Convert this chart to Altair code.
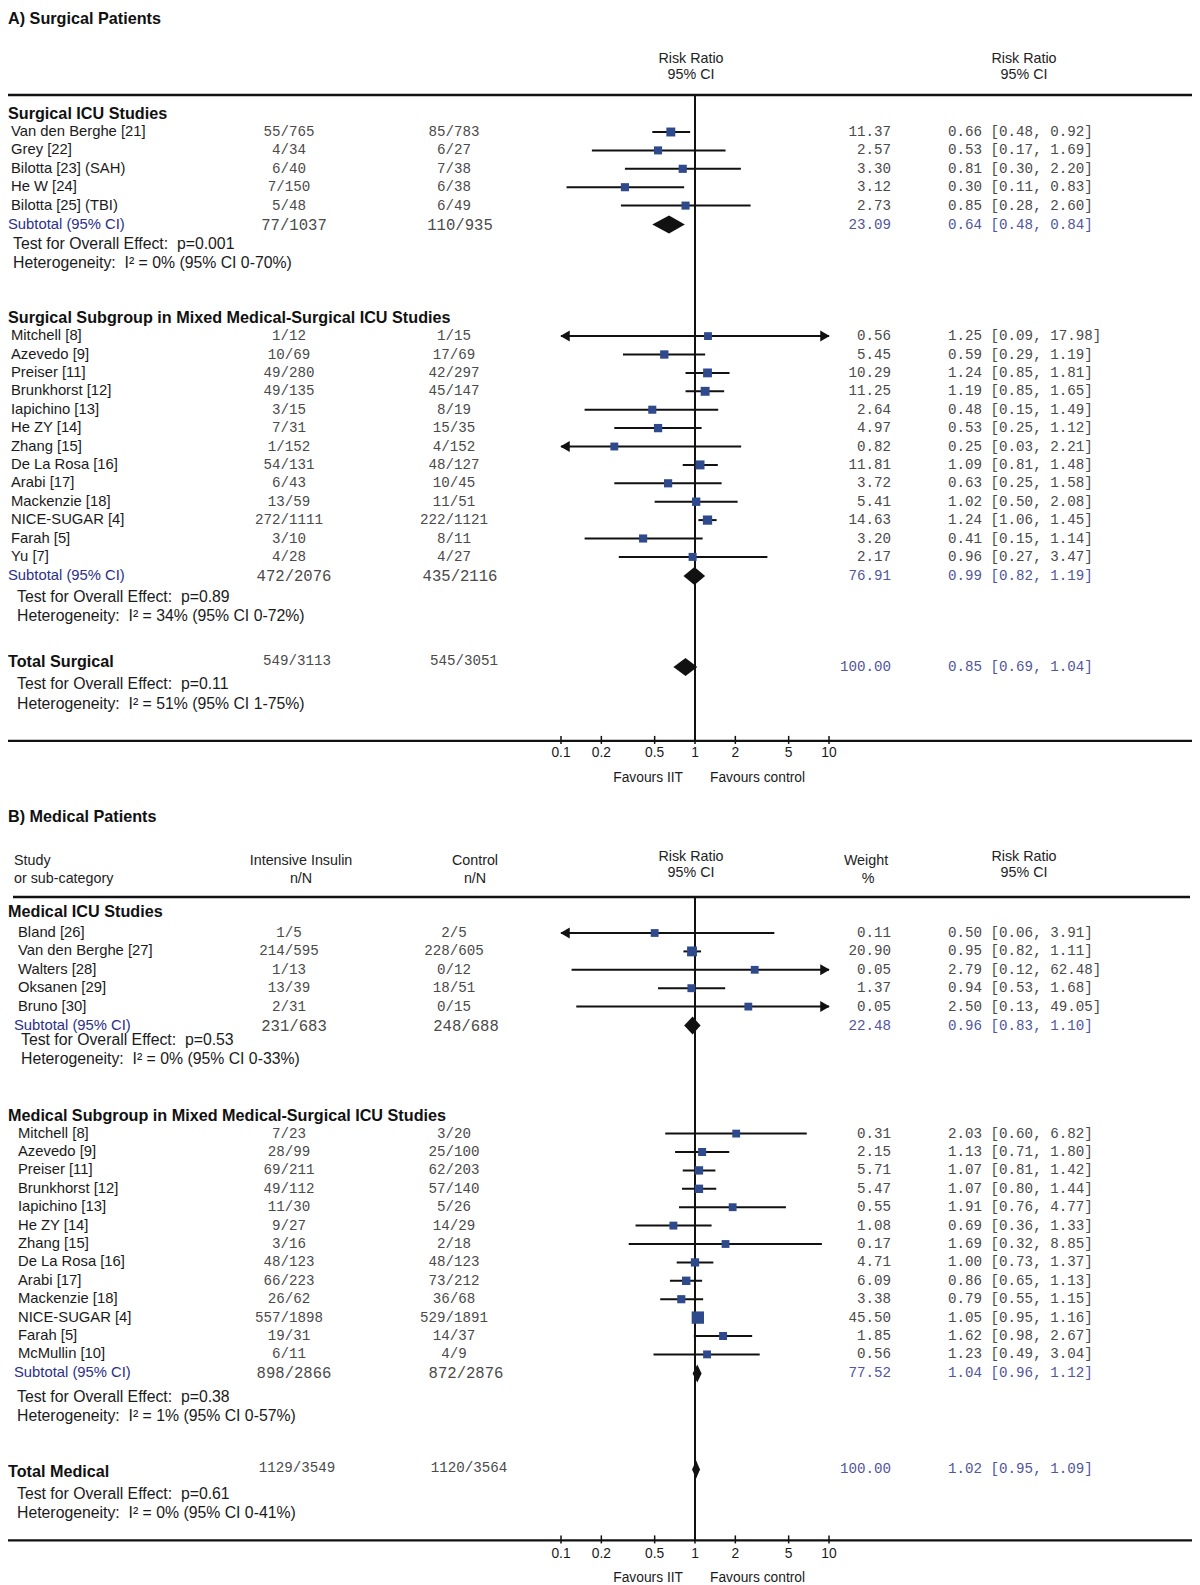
import altair as alt
import pandas as pd

# ------------------------------------------------------------------ data
# Panel A - Surgical patients
A_TITLE = "A) Surgical Patients"

A1_NAME = "Surgical ICU Studies"
A1_STUDY = ["Van den Berghe [21]", "Grey [22]", "Bilotta [23] (SAH)", "He W [24]", "Bilotta [25] (TBI)"]
A1_IIT = ["55/765", "4/34", "6/40", "7/150", "5/48"]
A1_CTRL = ["85/783", "6/27", "7/38", "6/38", "6/49"]
A1_WEIGHT = [11.37, 2.57, 3.30, 3.12, 2.73]
A1_RR = [0.66, 0.53, 0.81, 0.30, 0.85]
A1_LO = [0.48, 0.17, 0.30, 0.11, 0.28]
A1_HI = [0.92, 1.69, 2.20, 0.83, 2.60]
A1_SUB = ["77/1037", "110/935", 23.09, 0.64, 0.48, 0.84]
A1_TEST = "p=0.001"
A1_HET = "0% (95% CI 0-70%)"

A2_NAME = "Surgical Subgroup in Mixed Medical-Surgical ICU Studies"
A2_STUDY = ["Mitchell [8]", "Azevedo [9]", "Preiser [11]", "Brunkhorst [12]", "Iapichino [13]",
            "He ZY [14]", "Zhang [15]", "De La Rosa [16]", "Arabi [17]", "Mackenzie [18]",
            "NICE-SUGAR [4]", "Farah [5]", "Yu [7]"]
A2_IIT = ["1/12", "10/69", "49/280", "49/135", "3/15", "7/31", "1/152", "54/131", "6/43",
          "13/59", "272/1111", "3/10", "4/28"]
A2_CTRL = ["1/15", "17/69", "42/297", "45/147", "8/19", "15/35", "4/152", "48/127", "10/45",
           "11/51", "222/1121", "8/11", "4/27"]
A2_WEIGHT = [0.56, 5.45, 10.29, 11.25, 2.64, 4.97, 0.82, 11.81, 3.72, 5.41, 14.63, 3.20, 2.17]
A2_RR = [1.25, 0.59, 1.24, 1.19, 0.48, 0.53, 0.25, 1.09, 0.63, 1.02, 1.24, 0.41, 0.96]
A2_LO = [0.09, 0.29, 0.85, 0.85, 0.15, 0.25, 0.03, 0.81, 0.25, 0.50, 1.06, 0.15, 0.27]
A2_HI = [17.98, 1.19, 1.81, 1.65, 1.49, 1.12, 2.21, 1.48, 1.58, 2.08, 1.45, 1.14, 3.47]
A2_SUB = ["472/2076", "435/2116", 76.91, 0.99, 0.82, 1.19]
A2_TEST = "p=0.89"
A2_HET = "34% (95% CI 0-72%)"

A_TOTAL_NAME = "Total Surgical"
A_TOTAL = ["549/3113", "545/3051", 100.00, 0.85, 0.69, 1.04]
A_TOTAL_TEST = "p=0.11"
A_TOTAL_HET = "51% (95% CI 1-75%)"

# Panel B - Medical patients
B_TITLE = "B) Medical Patients"

B1_NAME = "Medical ICU Studies"
B1_STUDY = ["Bland [26]", "Van den Berghe [27]", "Walters [28]", "Oksanen [29]", "Bruno [30]"]
B1_IIT = ["1/5", "214/595", "1/13", "13/39", "2/31"]
B1_CTRL = ["2/5", "228/605", "0/12", "18/51", "0/15"]
B1_WEIGHT = [0.11, 20.90, 0.05, 1.37, 0.05]
B1_RR = [0.50, 0.95, 2.79, 0.94, 2.50]
B1_LO = [0.06, 0.82, 0.12, 0.53, 0.13]
B1_HI = [3.91, 1.11, 62.48, 1.68, 49.05]
B1_SUB = ["231/683", "248/688", 22.48, 0.96, 0.83, 1.10]
B1_TEST = "p=0.53"
B1_HET = "0% (95% CI 0-33%)"

B2_NAME = "Medical Subgroup in Mixed Medical-Surgical ICU Studies"
B2_STUDY = ["Mitchell [8]", "Azevedo [9]", "Preiser [11]", "Brunkhorst [12]", "Iapichino [13]",
            "He ZY [14]", "Zhang [15]", "De La Rosa [16]", "Arabi [17]", "Mackenzie [18]",
            "NICE-SUGAR [4]", "Farah [5]", "McMullin [10]"]
B2_IIT = ["7/23", "28/99", "69/211", "49/112", "11/30", "9/27", "3/16", "48/123", "66/223",
          "26/62", "557/1898", "19/31", "6/11"]
B2_CTRL = ["3/20", "25/100", "62/203", "57/140", "5/26", "14/29", "2/18", "48/123", "73/212",
           "36/68", "529/1891", "14/37", "4/9"]
B2_WEIGHT = [0.31, 2.15, 5.71, 5.47, 0.55, 1.08, 0.17, 4.71, 6.09, 3.38, 45.50, 1.85, 0.56]
B2_RR = [2.03, 1.13, 1.07, 1.07, 1.91, 0.69, 1.69, 1.00, 0.86, 0.79, 1.05, 1.62, 1.23]
B2_LO = [0.60, 0.71, 0.81, 0.80, 0.76, 0.36, 0.32, 0.73, 0.65, 0.55, 0.95, 0.98, 0.49]
B2_HI = [6.82, 1.80, 1.42, 1.44, 4.77, 1.33, 8.85, 1.37, 1.13, 1.15, 1.16, 2.67, 3.04]
B2_SUB = ["898/2866", "872/2876", 77.52, 1.04, 0.96, 1.12]
B2_TEST = "p=0.38"
B2_HET = "1% (95% CI 0-57%)"

B_TOTAL_NAME = "Total Medical"
B_TOTAL = ["1129/3549", "1120/3564", 100.00, 1.02, 0.95, 1.09]
B_TOTAL_TEST = "p=0.61"
B_TOTAL_HET = "0% (95% CI 0-41%)"

TICK_VALUES = [0.1, 0.2, 0.5, 1, 2, 5, 10]
TICK_LABELS = ["0.1", "0.2", "0.5", "1", "2", "5", "10"]
HDR_RR = ["Risk Ratio", "95% CI"]
HDR_STUDY = ["Study", "or sub-category"]
HDR_IIT = ["Intensive Insulin", "n/N"]
HDR_CTRL = ["Control", "n/N"]
HDR_WEIGHT = ["Weight", "%"]
FAV_LEFT = "Favours IIT"
FAV_RIGHT = "Favours control"
SUBTOTAL_LABEL = "Subtotal (95% CI)"
TEST_LABEL = "Test for Overall Effect:\u00a0 "
HET_LABEL = "Heterogeneity:\u00a0 I\u00b2 = "

# ------------------------------------------------------------------ layout
W, H = 1184, 1577
ROW = 18.4            # px per study row
PAGE = 8              # page margin
SANS = "Liberation Sans"
MONO = "Liberation Mono"
INK = "#111111"
NUM = "#4a4a4a"
NAVY = "#2b3088"
SUBNUM = "#50569a"
SQUARE = "#2f4a8c"

LAYOUT_A = dict(title=19, rr=(59, 75), other=None, rule=95, rule_x=(6, 1194),
                head_gap=19, first_gap=[18, 18], sub_gap=19, test_gap=[19.5, 21], het_gap=[19, 19],
                next_gap=55, total_gap=46, total_shift=5, total_num_shift=-1,
                ttest_gap=22, thet_gap=20, axis_gap=37, ticklab_gap=12, fav_gap=37,
                head_x=0, study_x=11, sub_x=6, test_x=[13, 17], total_x=0, ttest_x=17,
                sub_num_x=(294, 460), tot_num_x=(297, 464))
LAYOUT_B = dict(title=817, rr=(857, 873), other=(861, 879), rule=897, rule_x=(13, 1190),
                head_gap=15, first_gap=[21, 18], sub_gap=19, test_gap=[14, 24], het_gap=[19, 19],
                next_gap=57, total_gap=56, total_shift=-3, total_num_shift=-4,
                ttest_gap=22, thet_gap=19, axis_gap=27, ticklab_gap=14, fav_gap=38,
                head_x=8, study_x=18, sub_x=14, test_x=[21, 17], total_x=8, ttest_x=17,
                sub_num_x=(294, 466), tot_num_x=(297, 469))


def sec(name, study, iit, ctrl, w, rr, lo, hi, sub, test, het):
    return dict(name=name, study=study, iit=iit, ctrl=ctrl, w=w, rr=rr, lo=lo, hi=hi,
                sub=sub, test=test, het=het)


PANELS = [
    (A_TITLE, LAYOUT_A,
     [sec(A1_NAME, A1_STUDY, A1_IIT, A1_CTRL, A1_WEIGHT, A1_RR, A1_LO, A1_HI, A1_SUB, A1_TEST, A1_HET),
      sec(A2_NAME, A2_STUDY, A2_IIT, A2_CTRL, A2_WEIGHT, A2_RR, A2_LO, A2_HI, A2_SUB, A2_TEST, A2_HET)],
     (A_TOTAL_NAME, A_TOTAL, A_TOTAL_TEST, A_TOTAL_HET)),
    (B_TITLE, LAYOUT_B,
     [sec(B1_NAME, B1_STUDY, B1_IIT, B1_CTRL, B1_WEIGHT, B1_RR, B1_LO, B1_HI, B1_SUB, B1_TEST, B1_HET),
      sec(B2_NAME, B2_STUDY, B2_IIT, B2_CTRL, B2_WEIGHT, B2_RR, B2_LO, B2_HI, B2_SUB, B2_TEST, B2_HET)],
     (B_TOTAL_NAME, B_TOTAL, B_TOTAL_TEST, B_TOTAL_HET)),
]


def yu(page_y):
    return (page_y - PAGE) / ROW


def px(page_x):
    return max(0, page_x - PAGE)


texts = []      # t, y, x, align, style
studies = []    # rows for forest
diamonds = []
hrules = []
vlines = []
ticks = []


def add_text(t, y, x, align, style):
    texts.append(dict(t=t, y=yu(y), x=px(x), align=align, style=style))


def ci_str(rr, lo, hi):
    return f"{rr:.2f} [{lo:.2f}, {hi:.2f}]"


DH = 9.0  # diamond half height, px

for title, L, sections, total in PANELS:
    add_text(title, L["title"], 0, "left", "title")
    r1, r2 = L["rr"]
    add_text(HDR_RR[0], r1, 691, "center", "hdr")
    add_text(HDR_RR[1], r2, 691, "center", "hdr")
    add_text(HDR_RR[0], r1, 1024, "center", "hdr")
    add_text(HDR_RR[1], r2, 1024, "center", "hdr")
    if L["other"]:
        o1, o2 = L["other"]
        add_text(HDR_STUDY[0], o1, 14, "left", "hdr")
        add_text(HDR_STUDY[1], o2, 14, "left", "hdr")
        add_text(HDR_IIT[0], o1, 301, "center", "hdr")
        add_text(HDR_IIT[1], o2, 301, "center", "hdr")
        add_text(HDR_CTRL[0], o1, 475, "center", "hdr")
        add_text(HDR_CTRL[1], o2, 475, "center", "hdr")
        add_text(HDR_WEIGHT[0], o1, 866, "center", "hdr")
        add_text(HDR_WEIGHT[1], o2, 868, "center", "hdr")
    rule_y = L["rule"]
    hrules.append(dict(y=yu(rule_y), x0=px(L["rule_x"][0]), x1=px(L["rule_x"][1]), kind="head"))
    cur = rule_y
    for k, s in enumerate(sections):
        cur += L["head_gap"] if k == 0 else L["next_gap"]
        add_text(s["name"], cur, L["head_x"], "left", "section")
        cur += L["first_gap"][k]
        for i, name in enumerate(s["study"]):
            if i:
                cur += ROW
            add_text(name, cur, L["study_x"], "left", "study")
            add_text(s["iit"][i], cur, 289, "center", "num")
            add_text(s["ctrl"][i], cur, 454, "center", "num")
            add_text(f"{s['w'][i]:.2f}", cur, 891, "right", "num")
            add_text(ci_str(s["rr"][i], s["lo"][i], s["hi"][i]), cur, 948, "left", "num")
            studies.append(dict(y=yu(cur), rr=s["rr"][i], lo=max(s["lo"][i], 0.1),
                                hi=min(s["hi"][i], 10.0), left=s["lo"][i] < 0.1,
                                right=s["hi"][i] > 10.0,
                                s=(7.8 + 0.1 * s["w"][i]) ** 2))
        cur += L["sub_gap"]
        si, sc, sw, srr, slo, shi = s["sub"]
        add_text(SUBTOTAL_LABEL, cur, L["sub_x"], "left", "sublabel")
        add_text(si, cur, L["sub_num_x"][0], "center", "subnum")
        add_text(sc, cur, L["sub_num_x"][1], "center", "subnum")
        add_text(f"{sw:.2f}", cur, 891, "right", "subw")
        add_text(ci_str(srr, slo, shi), cur, 948, "left", "subw")
        g = f"{title}-{k}"
        for xv, top, bot in [(slo, cur, cur), (srr, cur - DH, cur + DH), (shi, cur, cur)]:
            diamonds.append(dict(g=g, x=xv, yt=yu(top), yb=yu(bot)))
        cur += L["test_gap"][k]
        add_text(TEST_LABEL + s["test"], cur, L["test_x"][k], "left", "test")
        cur += L["het_gap"][k]
        add_text(HET_LABEL + s["het"], cur, L["test_x"][k], "left", "test")
    tname, tvals, ttest, thet = total
    cur += L["total_gap"]
    ti, tc, tw, trr, tlo, thi = tvals
    add_text(tname, cur, L["total_x"], "left", "section")
    add_text(ti, cur + L["total_num_shift"], L["tot_num_x"][0], "center", "num")
    add_text(tc, cur + L["total_num_shift"], L["tot_num_x"][1], "center", "num")
    dy = cur + L["total_shift"]
    add_text(f"{tw:.2f}", dy, 891, "right", "subw")
    add_text(ci_str(trr, tlo, thi), dy, 948, "left", "subw")
    g = f"{title}-total"
    for xv, top, bot in [(tlo, dy, dy), (trr, dy - DH, dy + DH), (thi, dy, dy)]:
        diamonds.append(dict(g=g, x=xv, yt=yu(top), yb=yu(bot)))
    cur += L["ttest_gap"]
    add_text(TEST_LABEL + ttest, cur, L["ttest_x"], "left", "test")
    cur += L["thet_gap"]
    add_text(HET_LABEL + thet, cur, L["ttest_x"], "left", "test")
    cur += L["axis_gap"]
    axis_y = cur
    hrules.append(dict(y=yu(axis_y), x0=px(6), x1=px(1196), kind="axis"))
    vlines.append(dict(one=1.0, y=yu(rule_y), y2=yu(axis_y)))
    for v, lab in zip(TICK_VALUES, TICK_LABELS):
        ticks.append(dict(v=v, lab=lab, ya=yu(axis_y - 5), yb=yu(axis_y + 3),
                          yl=yu(axis_y + L["ticklab_gap"])))
    add_text(FAV_LEFT, axis_y + L["fav_gap"], 683, "right", "fav")
    add_text(FAV_RIGHT, axis_y + L["fav_gap"], 710, "left", "fav")

tdf = pd.DataFrame(texts)
sdf = pd.DataFrame(studies)
ddf = pd.DataFrame(diamonds)
hdf = pd.DataFrame(hrules)
vdf = pd.DataFrame(vlines)
kdf = pd.DataFrame(ticks)

YS = alt.Scale(domain=[0, H / ROW], range=[0, H], nice=False, zero=False)
XS = alt.Scale(type="log", domain=[0.1, 10], range=[553, 821], nice=False)


def Yf(field):
    return alt.Y(f"{field}:Q", scale=YS, axis=None)


def Xf(field):
    return alt.X(f"{field}:Q", scale=XS, axis=None)


STYLES = {
    "title": dict(font=SANS, fontSize=16.2, fontWeight="bold", color=INK),
    "hdr": dict(font=SANS, fontSize=14.3, fontWeight="normal", color="#222222"),
    "section": dict(font=SANS, fontSize=16.2, fontWeight="bold", color=INK),
    "study": dict(font=SANS, fontSize=14.8, fontWeight="normal", color="#1a1a1a"),
    "num": dict(font=MONO, fontSize=14.2, fontWeight="normal", color=NUM),
    "sublabel": dict(font=SANS, fontSize=14.8, fontWeight="normal", color=NAVY),
    "subnum": dict(font=MONO, fontSize=15.6, fontWeight="normal", color=NUM),
    "subw": dict(font=MONO, fontSize=14.2, fontWeight="normal", color=SUBNUM),
    "test": dict(font=SANS, fontSize=15.8, fontWeight="normal", color="#1a1a1a"),
    "fav": dict(font=SANS, fontSize=13.8, fontWeight="normal", color="#1a1a1a"),
}

layers = []

# text, one layer per style / x / align combination
for (style, x, align), grp in tdf.groupby(["style", "x", "align"]):
    layers.append(
        alt.Chart(grp[["t", "y"]]).mark_text(align=align, baseline="middle", **STYLES[style])
        .encode(x=alt.value(float(x)), y=Yf("y"), text="t:N")
    )

# horizontal rules
for _, r in hdf.iterrows():
    layers.append(
        alt.Chart(pd.DataFrame([dict(y=r["y"])])).mark_rule(
            color=INK, strokeWidth=2.6 if r["kind"] == "head" else 2.2)
        .encode(x=alt.value(float(r["x0"])), x2=alt.value(float(r["x1"])), y=Yf("y"))
    )

# line of no effect
layers.append(
    alt.Chart(vdf).mark_rule(color=INK, strokeWidth=2)
    .encode(x=Xf("one"), y=Yf("y"), y2="y2:Q")
)

# axis ticks and labels
layers.append(
    alt.Chart(kdf).mark_rule(color=INK, strokeWidth=1.5)
    .encode(x=Xf("v"), y=Yf("ya"), y2="yb:Q")
)
layers.append(
    alt.Chart(kdf).mark_text(baseline="middle", align="center", font=SANS, fontSize=13.8, color="#1a1a1a")
    .encode(x=Xf("v"), y=Yf("yl"), text="lab:N")
)

# confidence intervals
layers.append(
    alt.Chart(sdf).mark_rule(color=INK, strokeWidth=2)
    .encode(x=Xf("lo"), x2="hi:Q", y=Yf("y"))
)
# arrows for truncated intervals
left = sdf[sdf["left"]]
right = sdf[sdf["right"]]
if len(left):
    layers.append(
        alt.Chart(left[["lo", "y"]]).mark_point(shape="triangle-left", filled=True, size=120,
                                                 color=INK, opacity=1, xOffset=4)
        .encode(x=Xf("lo"), y=Yf("y"))
    )
if len(right):
    layers.append(
        alt.Chart(right[["hi", "y"]]).mark_point(shape="triangle-right", filled=True, size=120,
                                                  color=INK, opacity=1, xOffset=-4)
        .encode(x=Xf("hi"), y=Yf("y"))
    )
# study estimates
layers.append(
    alt.Chart(sdf[["rr", "y", "s"]]).mark_square(color=SQUARE, opacity=1)
    .encode(x=Xf("rr"), y=Yf("y"), size=alt.Size("s:Q", scale=None, legend=None))
)
# pooled diamonds
layers.append(
    alt.Chart(ddf).mark_area(color=INK, orient="vertical", opacity=1)
    .encode(x=Xf("x"), y=Yf("yt"), y2="yb:Q", detail="g:N")
)

chart = alt.layer(*layers).properties(
    width=W, height=H, padding=0, autosize=alt.AutoSizeParams(type="none"),
    background="white"
).configure_view(stroke=None)

chart.save("out.html", embed_options={"renderer": "svg", "actions": False})
